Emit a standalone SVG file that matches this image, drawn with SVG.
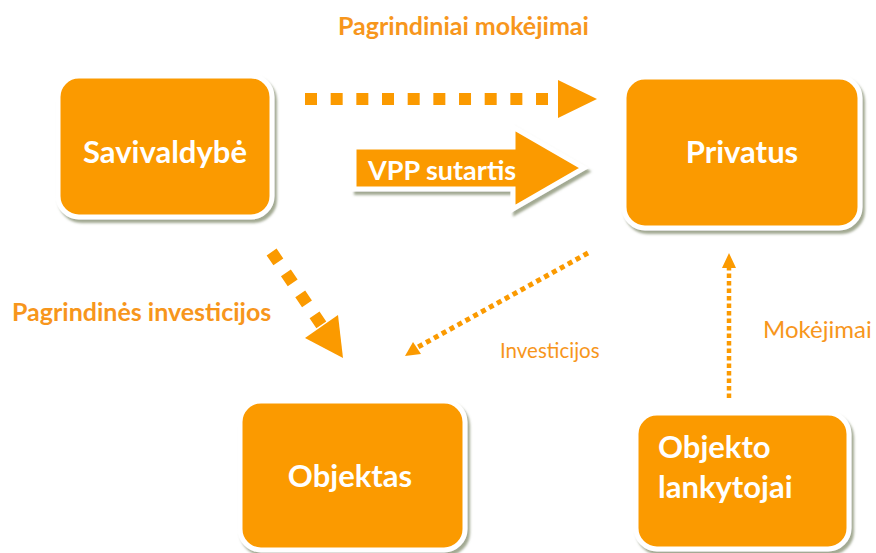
<svg xmlns="http://www.w3.org/2000/svg" width="876" height="553" viewBox="0 0 876 553">
<defs>
<filter id="sh" x="-10%" y="-10%" width="125%" height="130%">
<feDropShadow dx="2.5" dy="3.5" stdDeviation="1.2" flood-color="#6f7a58" flood-opacity="0.65"/>
</filter>
<style>
.box{fill:#FB9A00;stroke:#ffffff;stroke-width:5;filter:url(#sh)}
.bt{font-family:Lato,"Open Sans","Liberation Sans",sans-serif;font-weight:bold;fill:#ffffff;font-size:31px}
.lb{font-family:Lato,"Open Sans","Liberation Sans",sans-serif;fill:#F7961C}
.b{font-weight:bold}
.dash{stroke:#FB9A00;fill:none}
.head{fill:#FB9A00}
</style>
</defs>
<rect width="876" height="553" fill="#ffffff"/>
<g id="savivaldybe">
<rect class="box" x="58" y="76" width="214" height="141" rx="21"/>
<text class="bt" x="165" y="163" text-anchor="middle">Savivaldybė</text>
</g>
<g id="privatus">
<rect class="box" x="624" y="77" width="236" height="151" rx="21"/>
<text class="bt" x="742" y="163" text-anchor="middle">Privatus</text>
</g>
<g id="objektas">
<rect class="box" x="240" y="401" width="225" height="149" rx="21"/>
<text class="bt" x="350" y="487" text-anchor="middle">Objektas</text>
</g>
<g id="lankytojai">
<rect class="box" x="636" y="413" width="213" height="136" rx="21"/>
<text class="bt" x="658" y="458">Objekto</text>
<text class="bt" x="658" y="498">lankytojai</text>
</g>
<g id="vpp">
<path class="box" d="M354,147 L513,147 L513,127 L584,168 L513,209 L513,189 L354,189 Z"/>
<text class="bt" x="368" y="180" style="font-size:27px">VPP sutartis</text>
</g>
<g id="connectors">
<line class="dash" x1="305" y1="99" x2="548" y2="99" stroke-width="12" stroke-dasharray="12 13.67"/>
<polygon class="head" points="558,80 597,99 558,118"/>
<line class="dash" x1="271.6" y1="252" x2="321.4" y2="325" stroke-width="12" stroke-dasharray="12 13.4"/>
<polygon class="head" points="305,338 338,315 343,358"/>
<line class="dash" x1="588" y1="253" x2="418" y2="347" stroke-width="5" stroke-dasharray="5 4"/>
<polygon class="head" points="405,356 413,342 421,354"/>
<line class="dash" x1="729" y1="398" x2="729" y2="268" stroke-width="4.5" stroke-dasharray="4.5 3"/>
<polygon class="head" points="722,268 736,268 729,253"/>
</g>
<g id="labels">
<text class="lb b" x="338" y="35" font-size="25">Pagrindiniai mokėjimai</text>
<text class="lb b" x="12" y="321" font-size="25">Pagrindinės investicijos</text>
<text class="lb" x="500" y="358" font-size="20.5">Investicijos</text>
<text class="lb" x="763" y="338" font-size="24">Mokėjimai</text>
</g>
</svg>
